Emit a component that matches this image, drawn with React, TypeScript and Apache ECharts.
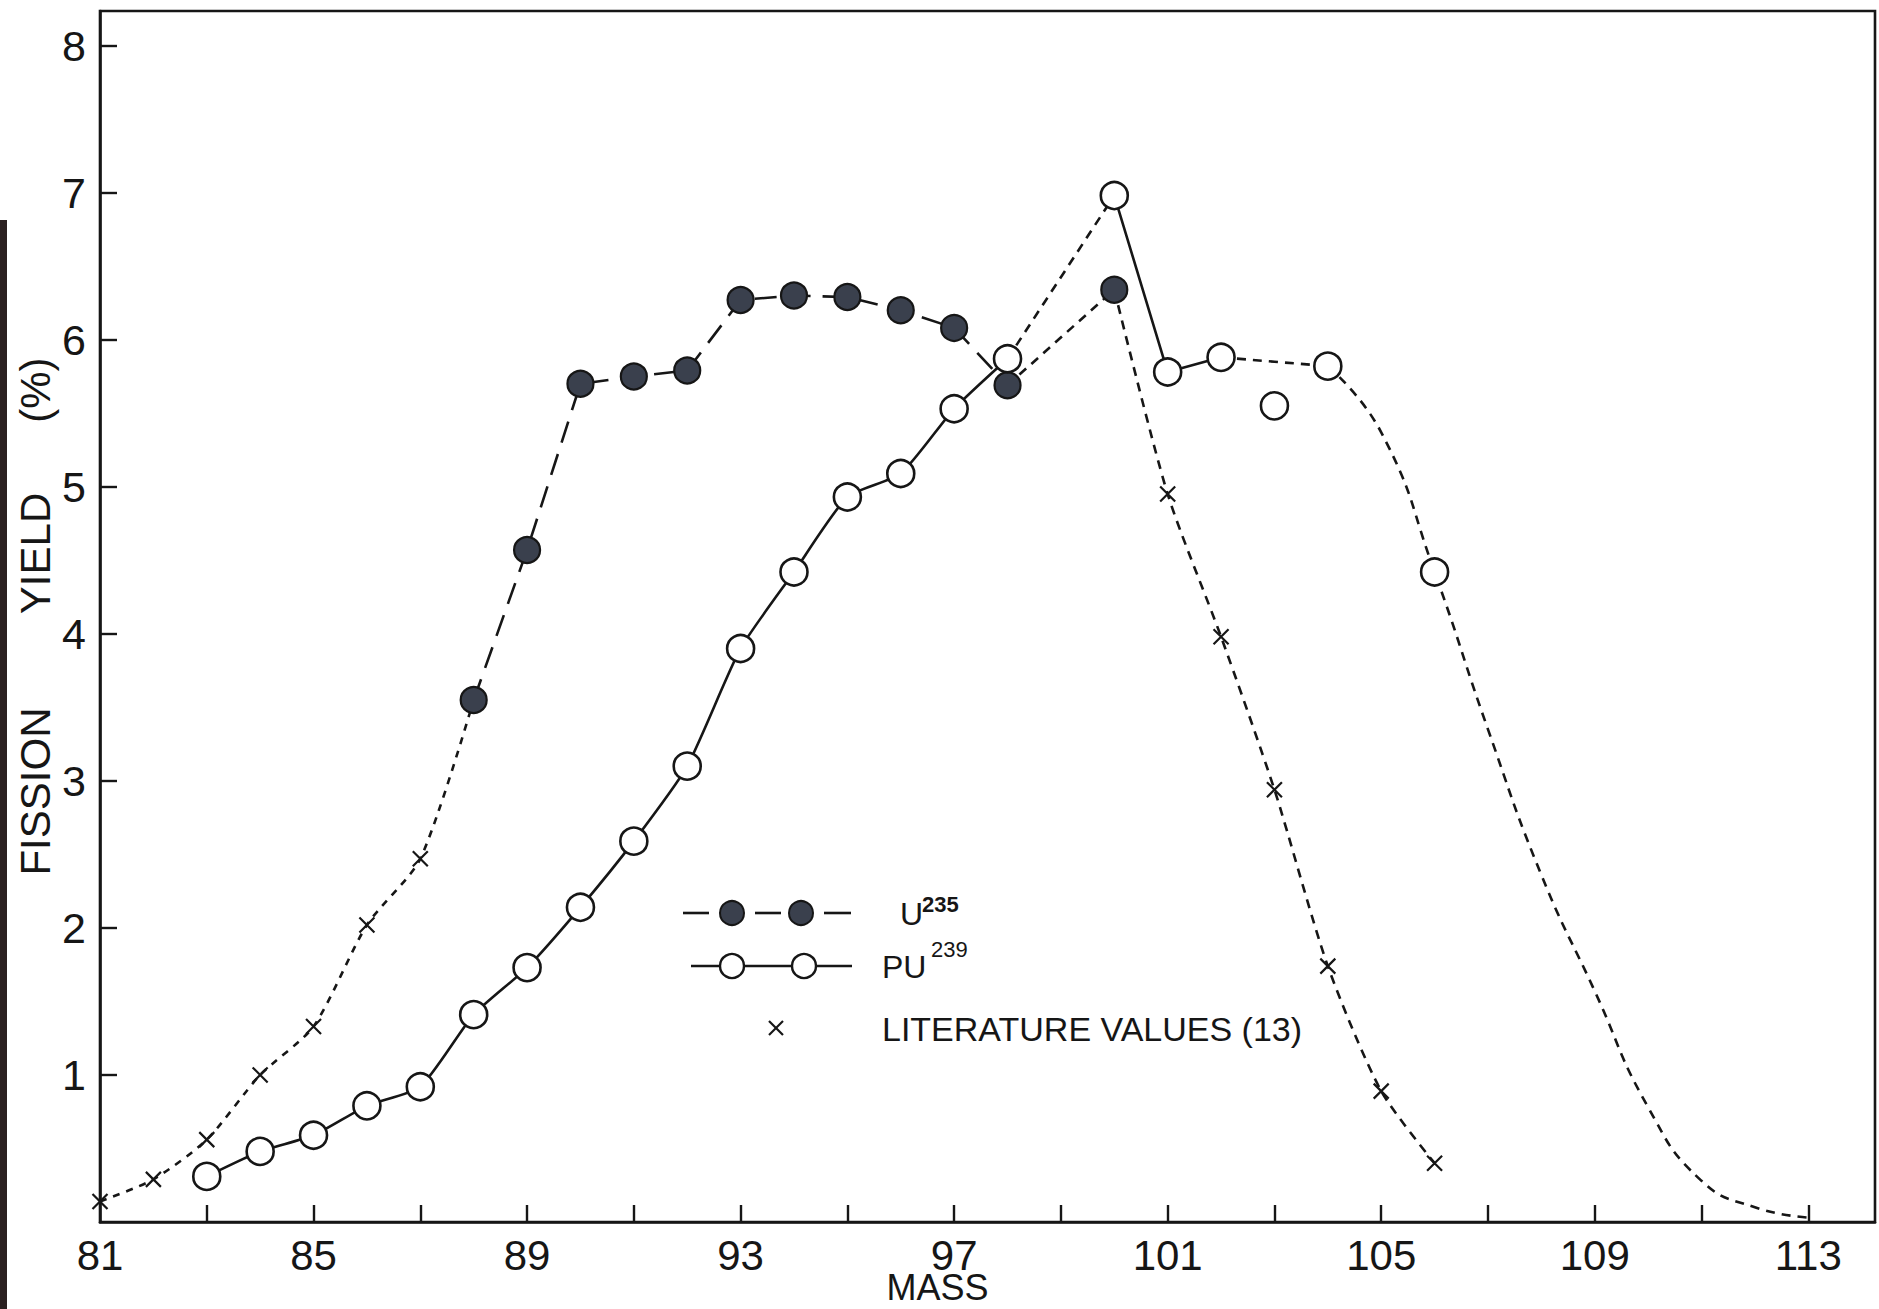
import React, { useEffect, useRef } from "react";
import * as echarts from "echarts";

// ---- axis ticks / labels ----
const xTickValues = [83, 85, 87, 89, 91, 93, 95, 97, 99, 101, 103, 105, 107, 109, 111, 113];
const xLabelValues = [81, 85, 89, 93, 97, 101, 105, 109, 113];
const yTickValues = [1, 2, 3, 4, 5, 6, 7, 8];

// ---- U235 (filled circles) ----
const u235Mass = [88, 89, 90, 91, 92, 93, 94, 95, 96, 97, 98, 100];
const u235Yield = [3.55, 4.57, 5.7, 5.75, 5.79, 6.27, 6.3, 6.29, 6.2, 6.08, 5.69, 6.34];

// ---- PU239 (open circles) ----
const pu239Mass = [83, 84, 85, 86, 87, 88, 89, 90, 91, 92, 93, 94, 95, 96, 97, 98, 100, 101, 102, 103, 104, 106];
const pu239Yield = [0.31, 0.48, 0.59, 0.79, 0.92, 1.41, 1.73, 2.14, 2.59, 3.1, 3.9, 4.42, 4.93, 5.09, 5.53, 5.87, 6.98, 5.78, 5.88, 5.55, 5.82, 4.42];

// ---- literature values (x marks) ----
const litMass = [81, 82, 83, 84, 85, 86, 87, 101, 102, 103, 104, 105, 106];
const litYield = [0.14, 0.29, 0.56, 1.0, 1.33, 2.02, 2.47, 4.95, 3.98, 2.94, 1.74, 0.89, 0.4];

// ---- hand-drawn PU239 extrapolation curve ----
const puCurveMass = [105, 107, 108, 109, 110, 111, 112, 113];
const puCurveYield = [5.37, 3.35, 2.36, 1.57, 0.78, 0.28, 0.1, 0.03];

const FONT = "'Liberation Sans', 'DejaVu Sans', sans-serif";
const INK = "#161616";
const UFILL = "#3a404d";

function pick(mass: number[], vals: number[], keep: number[]): number[][] {
  return keep.map((m) => [m, vals[mass.indexOf(m)]]);
}

function zip(mass: number[], vals: number[]): number[][] {
  return mass.map((m, i) => [m, vals[i]]);
}

const X_PATH = "path://M0,0L10,10M10,0L0,10";

export default function App() {
  const ref = useRef<HTMLDivElement>(null);

  useEffect(() => {
    document.body.style.margin = "0";
    if (!ref.current) return;
    const chart = echarts.init(ref.current, undefined, { renderer: "svg" });

    const lineBase = (data: number[][], type: any, smooth: number | boolean = false) => ({
      type: "line",
      data,
      symbol: "none",
      smooth,
      z: 2,
      silent: true,
      lineStyle: { color: INK, width: 2.6, type, opacity: 1 },
    });

    const shortDash = [9, 7];
    const dotDash = [7, 7];
    const longDash = [22, 12];

    // line pieces
    const uMain = pick(u235Mass, u235Yield, [88, 89, 90, 91, 92, 93, 94, 95, 96, 97, 98]);
    const uBridge = pick(u235Mass, u235Yield, [98, 100]);
    const litHead = [...pick(litMass, litYield, [81, 82, 83, 84, 85, 86, 87]), ...pick(u235Mass, u235Yield, [88])];
    const litTail = [...pick(u235Mass, u235Yield, [100]), ...pick(litMass, litYield, [101, 102, 103, 104, 105, 106])];
    const puMain = pick(pu239Mass, pu239Yield, [83, 84, 85, 86, 87, 88, 89, 90, 91, 92, 93, 94, 95, 96, 97, 98]);
    const puBridge = pick(pu239Mass, pu239Yield, [98, 100]);
    const puPeak = pick(pu239Mass, pu239Yield, [100, 101, 102]);
    const puFlat = pick(pu239Mass, pu239Yield, [102, 104]);
    const curve = zip(puCurveMass, puCurveYield);
    const puTail = [
      ...pick(pu239Mass, pu239Yield, [104]),
      curve[0],
      ...pick(pu239Mass, pu239Yield, [106]),
      ...curve.slice(1),
    ];

    const legendY1 = 913;
    const legendY2 = 966;
    const legendY3 = 1028;

    const option: any = {
      animation: false,
      backgroundColor: "#ffffff",
      grid: {
        left: 100,
        right: 4,
        top: 11,
        bottom: 87,
        show: true,
        borderColor: INK,
        borderWidth: 2.6,
        backgroundColor: "transparent",
        outerBoundsMode: "none",
      },
      xAxis: {
        type: "value",
        min: 81,
        max: 114.25,
        name: "MASS",
        nameLocation: "middle",
        nameGap: 48,
        nameMoveOverlap: false,
        nameTextStyle: {
          fontFamily: FONT,
          fontSize: 36,
          lineHeight: 34,
          color: INK,
          padding: [0, 100, 0, 0],
        },
        axisLine: { show: true, lineStyle: { color: INK, width: 2.6 } },
        axisTick: {
          show: true,
          inside: true,
          length: 17,
          lineStyle: { color: INK, width: 2.4 },
          customValues: xTickValues,
        },
        axisLabel: {
          customValues: xLabelValues,
          margin: 15,
          fontFamily: FONT,
          fontSize: 42,
          lineHeight: 36,
          color: INK,
        },
        splitLine: { show: false },
      },
      yAxis: {
        type: "value",
        min: 0,
        max: 8.235,
        name: "FISSION\u00a0\u00a0\u00a0\u00a0\u00a0\u00a0\u00a0\u00a0YIELD\u00a0\u00a0\u00a0\u00a0\u00a0\u00a0(%)",
        nameLocation: "middle",
        nameRotate: 90,
        nameGap: 44,
        nameMoveOverlap: false,
        nameTextStyle: {
          fontFamily: FONT,
          fontSize: 42,
          color: INK,
        },
        axisLine: { show: true, lineStyle: { color: INK, width: 2.6 } },
        axisTick: {
          show: true,
          inside: true,
          length: 17,
          lineStyle: { color: INK, width: 2.4 },
          customValues: yTickValues,
        },
        axisLabel: {
          customValues: yTickValues,
          margin: 14,
          fontFamily: FONT,
          fontSize: 43,
          color: INK,
        },
        splitLine: { show: false },
      },
      series: [
        { name: "U235 line", ...lineBase(uMain, longDash) },
        { name: "U235 bridge", ...lineBase(uBridge, shortDash) },
        { name: "Literature head", ...lineBase(litHead, dotDash, 0.25) },
        { name: "Literature tail", ...lineBase(litTail, shortDash, 0.25) },
        { name: "PU239 line", ...lineBase(puMain, "solid", 0.2) },
        { name: "PU239 bridge", ...lineBase(puBridge, shortDash) },
        { name: "PU239 peak", ...lineBase(puPeak, "solid") },
        { name: "PU239 flat", ...lineBase(puFlat, shortDash, 0.2) },
        { name: "PU239 extrapolation", ...lineBase(puTail, shortDash, 0.5) },
        {
          name: "LITERATURE VALUES (13)",
          type: "scatter",
          z: 4,
          data: zip(litMass, litYield),
          symbol: X_PATH,
          symbolSize: 15,
          itemStyle: { color: "transparent", borderColor: INK, borderWidth: 2.2, opacity: 1 },
        },
        {
          name: "U235",
          type: "scatter",
          z: 5,
          data: zip(u235Mass, u235Yield),
          symbol: "circle",
          symbolSize: 26,
          itemStyle: { color: UFILL, borderColor: INK, borderWidth: 2.2, opacity: 1 },
        },
        {
          name: "PU239",
          type: "scatter",
          z: 5,
          data: zip(pu239Mass, pu239Yield),
          symbol: "circle",
          symbolSize: 27,
          itemStyle: { color: "#ffffff", borderColor: INK, borderWidth: 2.6, opacity: 1 },
        },
      ],
      graphic: [
        // binding shadow at the left edge of the scan
        { type: "rect", left: 0, top: 220, shape: { width: 7, height: 1089 }, style: { fill: "#2a2020" }, silent: true },
        // legend row 1: U235
        { type: "line", shape: { x1: 683, y1: legendY1, x2: 709, y2: legendY1 }, style: { stroke: INK, lineWidth: 2.6 } },
        { type: "line", shape: { x1: 755, y1: legendY1, x2: 781, y2: legendY1 }, style: { stroke: INK, lineWidth: 2.6 } },
        { type: "line", shape: { x1: 824, y1: legendY1, x2: 851, y2: legendY1 }, style: { stroke: INK, lineWidth: 2.6 } },
        { type: "circle", shape: { cx: 732, cy: legendY1, r: 12 }, style: { fill: UFILL, stroke: INK, lineWidth: 2 } },
        { type: "circle", shape: { cx: 801, cy: legendY1, r: 12 }, style: { fill: UFILL, stroke: INK, lineWidth: 2 } },
        { type: "text", style: { text: "U", x: 900, y: legendY1 + 1, align: "left", verticalAlign: "middle", fontFamily: FONT, fontSize: 32, fill: INK } },
        { type: "text", style: { text: "235", x: 922, y: legendY1 - 9, align: "left", verticalAlign: "middle", fontFamily: FONT, fontSize: 22, fontWeight: "bold", fill: INK } },
        // legend row 2: PU239
        { type: "line", shape: { x1: 691, y1: legendY2, x2: 852, y2: legendY2 }, style: { stroke: INK, lineWidth: 2.6 } },
        { type: "circle", shape: { cx: 732, cy: legendY2, r: 12 }, style: { fill: "#ffffff", stroke: INK, lineWidth: 2.4 } },
        { type: "circle", shape: { cx: 804, cy: legendY2, r: 12 }, style: { fill: "#ffffff", stroke: INK, lineWidth: 2.4 } },
        { type: "text", style: { text: "PU", x: 882, y: legendY2 + 1, align: "left", verticalAlign: "middle", fontFamily: FONT, fontSize: 32, fill: INK } },
        { type: "text", style: { text: "239", x: 931, y: legendY2 - 17, align: "left", verticalAlign: "middle", fontFamily: FONT, fontSize: 22, fill: INK } },
        // legend row 3: literature values
        { type: "line", shape: { x1: 769, y1: legendY3 - 7, x2: 783, y2: legendY3 + 7 }, style: { stroke: INK, lineWidth: 2.2 } },
        { type: "line", shape: { x1: 783, y1: legendY3 - 7, x2: 769, y2: legendY3 + 7 }, style: { stroke: INK, lineWidth: 2.2 } },
        { type: "text", style: { text: "LITERATURE VALUES (13)", x: 882, y: legendY3 + 1, align: "left", verticalAlign: "middle", fontFamily: FONT, fontSize: 34, fill: INK } },
      ],
    };

    chart.setOption(option);
    return () => {
      chart.dispose();
    };
  }, []);

  return (
    <div
      ref={ref}
      style={{ position: "fixed", left: 0, top: 0, width: 1879, height: 1309, background: "#ffffff" }}
    />
  );
}
